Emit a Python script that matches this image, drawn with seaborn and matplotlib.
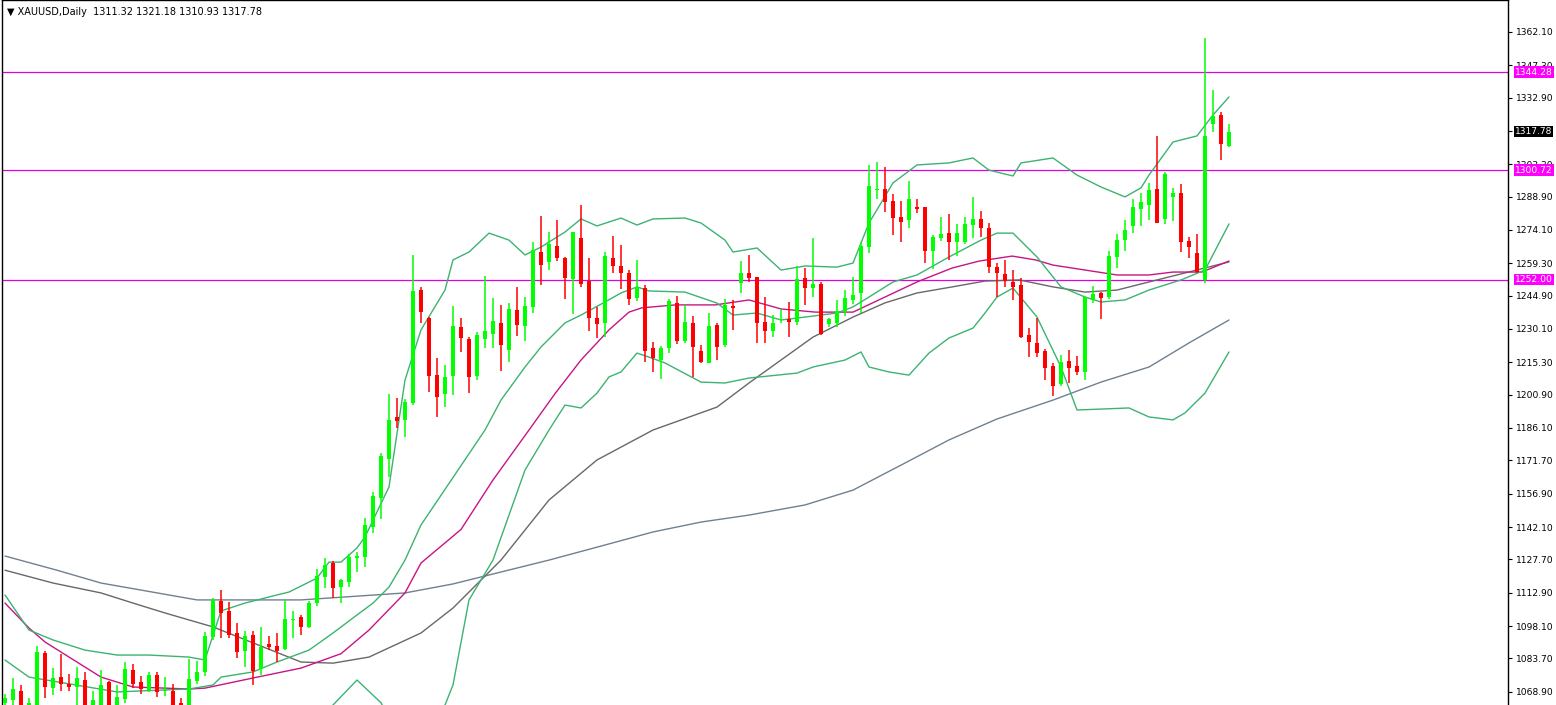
import numpy as np
import pandas as pd
import matplotlib
matplotlib.use("Agg")
import matplotlib.pyplot as plt
import seaborn as sns

# -----------------------------
# Candles (XAUUSD daily)
# -----------------------------
opens = [1064, 1065, 1069, 1063, 1063, 1086, 1070.5, 1075.5, 1072.5, 1071, 1074, 1063, 1063, 1073, 1063, 1065.6,
         1078.5, 1073, 1069.6, 1076.3, 1069, 1069.3, 1064, 1063, 1073.5, 1077.6, 1093, 1109.3, 1104.8, 1095,
         1087, 1094.1, 1079, 1090, 1089.2, 1087.9, 1100.8, 1102, 1097.7, 1108.4, 1119.7, 1126.1, 1115.4, 1117.7,
         1128.3, 1128.7, 1141.9, 1155, 1172.3, 1191, 1189.7, 1197.2, 1247.4, 1235, 1209.6, 1201.2, 1209.2, 1231,
         1225.7, 1209.2, 1225.7, 1228, 1232.7, 1220.8, 1238.5, 1231.4, 1239.9, 1264.3, 1259.9, 1267, 1261.6,
         1252.3, 1270.5, 1251.4, 1235, 1232.7, 1261.6, 1258.1, 1255, 1243.9, 1248.3, 1221.6, 1216.3, 1221.6,
         1241.7, 1224.8, 1232.7, 1220.3, 1215, 1231.9, 1223, 1240.3, 1250.5, 1255, 1253.2, 1233.2, 1229.2,
         1234.1, 1234.5, 1233.2, 1252.8, 1248.3, 1250.1, 1232.3, 1232.7, 1238.1, 1243, 1246.1, 1266.6, 1292,
         1292.3, 1287, 1280, 1278.5, 1284.3, 1284.3, 1264.8, 1270.5, 1272.7, 1268.8, 1268.8, 1276.3, 1279, 1275,
         1257.6, 1254.6, 1251, 1249.6, 1227.4, 1223.9, 1220.3, 1213.6, 1205.6, 1215.9, 1213.6, 1211, 1243,
         1246.1, 1244.3, 1262.1, 1269.6, 1275.9, 1283.4, 1285.2, 1292.3, 1279, 1288.8, 1290.6, 1269.2, 1263.9,
         1251.9, 1321.2, 1325.2, 1311.32]
highs = [1068, 1075, 1072, 1066, 1089, 1087, 1079.5, 1085.5, 1076.8, 1080, 1077.6, 1069, 1078.5, 1073.5, 1072, 1082,
         1081, 1075.8, 1077.6, 1077.6, 1075.4, 1072.3, 1066, 1083.5, 1082.5, 1095.5, 1110.6, 1114.1, 1108.8, 1099.4,
         1095.9, 1095.9, 1097.7, 1093.7, 1095, 1109.7, 1104.8, 1103, 1109.2, 1123.4, 1128.3, 1127, 1119, 1130.1,
         1131, 1146, 1157.7, 1175, 1201.2, 1199.4, 1199, 1263, 1248.8, 1235.4, 1217.2, 1214, 1240.3, 1235,
         1226.5, 1228.9, 1253.6, 1243.9, 1240.7, 1241.6, 1248.8, 1244.3, 1268.8, 1280.3, 1273.2, 1278.5, 1262,
         1273.2, 1285.2, 1261.6, 1239.9, 1264.3, 1271.4, 1267.4, 1256.3, 1260.8, 1249.6, 1224.3, 1222.5, 1243.4,
         1244.8, 1240.8, 1235.9, 1223, 1237.2, 1232.7, 1243.4, 1243, 1260.3, 1263, 1253.2, 1244.3, 1236.3, 1239,
         1242, 1258.1, 1257.2, 1270.5, 1251, 1235, 1243, 1247.4, 1253.2, 1268.8, 1303, 1304.3, 1302.1, 1290.1,
         1287, 1295.9, 1288, 1284.3, 1271.9, 1279.9, 1281.2, 1276.8, 1280, 1288.8, 1282.5, 1277, 1259.4, 1260.8,
         1256.3, 1252.8, 1230.5, 1235, 1221, 1215, 1218.5, 1220.8, 1218.1, 1244.8, 1249.2, 1246.5, 1264.8,
         1272.3, 1278.5, 1287.9, 1290.6, 1294.9, 1315.9, 1300, 1292.8, 1294.5, 1271, 1272.3, 1359.4, 1336.3,
         1326.5, 1321.18]
lows = [1063, 1063, 1062, 1062, 1062, 1066, 1067.5, 1069, 1069, 1063, 1062, 1062, 1062, 1062, 1062, 1064, 1070.5,
        1067.8, 1068.7, 1066.5, 1067, 1062, 1062, 1062, 1072.3, 1075.8, 1091.9, 1092.8, 1092.8, 1083.9, 1079.9,
        1071.9, 1076.3, 1087.4, 1082, 1087.4, 1092.8, 1094, 1097, 1107, 1115, 1110.6, 1108.4, 1115.5, 1122,
        1124.3, 1139.4, 1145.6, 1164.3, 1186.1, 1182, 1196.3, 1232.8, 1202.1, 1191, 1195.4, 1200.7, 1219.9,
        1201.6, 1207.4, 1221.6, 1221.6, 1211.4, 1215.4, 1227, 1224.8, 1237.2, 1249.6, 1256.3, 1260.3, 1243.4,
        1236.8, 1248.8, 1229.2, 1226.1, 1226.5, 1255, 1247.9, 1240.8, 1242.6, 1215.4, 1211, 1207.9, 1219.5,
        1223.4, 1223.9, 1208.7, 1215, 1215, 1216.3, 1222, 1229.6, 1246.1, 1251, 1223.9, 1223.9, 1226.5, 1232.7,
        1226.5, 1231.9, 1240.8, 1244.3, 1227.4, 1231, 1231, 1236, 1241, 1237.2, 1264, 1287.9, 1282.1, 1271.9,
        1268.8, 1275, 1281.6, 1259.4, 1256.7, 1269, 1260.8, 1262.5, 1268, 1270.5, 1271, 1255, 1244.3, 1248.8,
        1243, 1226.1, 1217.6, 1217.6, 1207.4, 1200.2, 1204.7, 1206, 1209.6, 1207.4, 1241.7, 1234.5, 1243.4,
        1257.2, 1264.8, 1272.7, 1275.9, 1278.5, 1277.2, 1276.8, 1278.1, 1264.3, 1261.6, 1255, 1250.5, 1317.7,
        1305.2, 1310.93]
closes = [1066, 1070, 1063, 1064, 1086.5, 1071, 1075, 1072.5, 1071, 1075, 1063, 1065, 1072, 1063, 1066.5, 1079,
          1072.5, 1070, 1076.3, 1068.7, 1069.6, 1063, 1063, 1074.5, 1077.6, 1093.7, 1109.7, 1103.9, 1094.1, 1086.5,
          1093.7, 1078.1, 1088.8, 1088.8, 1087, 1101.2, 1101.2, 1097.7, 1108.4, 1120.4, 1125.2, 1115, 1118.6,
          1128.7, 1129, 1143, 1155.9, 1173.6, 1189.7, 1189.2, 1197.6, 1247, 1237.6, 1209.2, 1199.9, 1208.7,
          1231.6, 1226.1, 1208.7, 1227.4, 1229.2, 1233.6, 1223, 1239, 1231.9, 1240.3, 1265.2, 1258.5, 1267.9,
          1261.6, 1252.8, 1273.2, 1250.1, 1235, 1232.3, 1262.5, 1258.1, 1255, 1243.4, 1248.8, 1220.3, 1217.2,
          1221.6, 1242.6, 1224.8, 1233.2, 1222.1, 1215.4, 1231.4, 1222.1, 1240.8, 1239.5, 1255, 1252.8, 1232.7,
          1229.2, 1232.7, 1234.5, 1233.2, 1252.3, 1248.3, 1250.1, 1227.9, 1234.5, 1238.1, 1243.9, 1245.3, 1267,
          1293.6, 1292, 1286.5, 1279.4, 1277.7, 1287.9, 1283.4, 1264.8, 1271, 1272.3, 1268.8, 1272.7, 1276.8,
          1279, 1275, 1257.6, 1255, 1251.4, 1248.8, 1226.5, 1224.3, 1219.5, 1212.7, 1204.7, 1215.4, 1212.7, 1211,
          1244.3, 1245.7, 1243.9, 1262.5, 1269.6, 1274.1, 1284.3, 1286.5, 1291.9, 1277.2, 1299, 1290.6, 1268.8,
          1266.6, 1255.4, 1315.9, 1324.8, 1312.3, 1317.78]

# -----------------------------
# Indicator lines (bar index, price)
# -----------------------------
bb_upper_idx = [0, 3, 6, 10, 14, 18, 23, 25, 26, 27, 30, 34, 35.5, 39, 40.5, 42, 44, 45, 48, 50, 52, 55, 56, 58, 60,
                60.5, 63, 65, 67, 70, 72, 74, 77, 79, 81, 85, 87, 90, 91, 94, 97, 100, 104, 106, 108, 111, 114, 118,
                121, 123, 126, 127, 131, 134, 137, 140, 142, 143, 146, 149, 151, 153]
bb_upper_val = [1111.9, 1096.3, 1091.9, 1087.4, 1085.2, 1085.2, 1084.3, 1083.0, 1094.0, 1104.8, 1108.3, 1111.9,
                1113.2, 1119.4, 1126.5, 1126.5, 1132.8, 1137.7, 1159.9, 1207.4, 1229.7, 1247.4, 1260.8, 1264.3,
                1271.0, 1272.7, 1269.6, 1263.0, 1266.5, 1273.2, 1279.0, 1275.9, 1279.4, 1276.3, 1279.0, 1279.4,
                1277.2, 1269.6, 1264.3, 1266.1, 1256.3, 1258.1, 1257.6, 1259.4, 1277.2, 1295.0, 1303.0, 1303.9,
                1306.1, 1300.7, 1298.1, 1303.9, 1306.1, 1298.5, 1293.2, 1288.8, 1292.8, 1298.5, 1313.2, 1315.9,
                1325.2, 1333.2]
bb_mid_idx = [0, 3, 14, 20, 23, 26, 27, 31, 34, 38, 41, 44, 46, 48, 50, 52, 60, 62, 65, 67, 70, 72, 75, 77, 79,
              80.5, 85, 89, 91, 94, 97, 100, 104, 106, 108, 111, 114, 118, 122, 124, 126, 129, 132, 135, 137, 140,
              143, 147, 150, 153]
bb_mid_val = [1083.0, 1075.4, 1068.8, 1069.7, 1070.1, 1071.9, 1075.4, 1077.7, 1082.1, 1087.4, 1095.0, 1103.0,
              1108.3, 1115.4, 1127.4, 1143.0, 1185.2, 1198.5, 1213.2, 1222.1, 1232.8, 1236.3, 1242.1, 1246.1,
              1248.8, 1247.0, 1246.5, 1241.6, 1236.3, 1237.2, 1234.1, 1235.4, 1237.2, 1239.9, 1244.3, 1251.0,
              1254.1, 1262.1, 1269.6, 1272.7, 1272.7, 1262.1, 1248.8, 1244.3, 1242.1, 1243.0, 1247.4, 1251.9,
              1256.3, 1276.8]
bb_low_idx = [0, 3, 10, 14, 20, 25, 30, 36, 41, 44, 47, 49, 51, 55, 56, 58, 61, 65, 68, 70, 72, 74, 75.5, 77, 79,
              80.5, 82.5, 87, 90, 93, 99, 101, 105, 107, 108, 110.5, 113, 115.5, 118, 121, 122.5, 124, 126, 129,
              132, 134, 140.5, 143, 146, 147.5, 150, 153]
bb_low_val = [1054.0, 1054.5, 1050.0, 1052.0, 1054.0, 1057.0, 1045.0, 1045.0, 1063.0, 1074.1, 1064.0, 1050.0,
              1030.0, 1063.0, 1071.9, 1109.7, 1127.4, 1167.4, 1185.2, 1196.3, 1195.0, 1201.6, 1208.8, 1211.0,
              1219.4, 1217.6, 1215.0, 1206.5, 1206.1, 1208.3, 1210.5, 1213.2, 1216.3, 1219.9, 1213.2, 1211.0,
              1209.6, 1219.4, 1226.1, 1230.5, 1237.2, 1244.3, 1248.3, 1235.4, 1213.2, 1194.1, 1195.0, 1191.0,
              1189.7, 1192.8, 1201.6, 1219.9]
ma_fast_idx = [0, 3, 5, 8, 12, 16, 20, 23, 25, 31, 37, 42, 45.5, 50, 52, 57, 61, 65.5, 68.8, 72, 75.5, 78, 79.6,
               83.8, 88.8, 93, 97, 101.3, 106, 110, 114, 118.4, 121.8, 125.9, 128.8, 131, 135, 139, 143, 146,
               149.6, 153]
ma_fast_val = [1108.3, 1097.2, 1091.0, 1084.3, 1075.4, 1071.0, 1070.5, 1070.1, 1070.5, 1075.0, 1079.4, 1085.8,
               1096.3, 1112.8, 1126.1, 1141.0, 1163.0, 1185.2, 1201.6, 1216.3, 1229.7, 1237.6, 1239.5, 1240.8,
               1240.8, 1243.0, 1239.0, 1237.6, 1237.6, 1244.3, 1251.0, 1257.2, 1260.3, 1262.5, 1260.8, 1258.5,
               1256.3, 1254.1, 1254.1, 1255.4, 1255.4, 1260.3]
ma_mid_idx = [0, 6, 12, 16, 20, 26, 37, 41, 45.5, 52, 56, 62, 68, 74, 81, 89, 93, 97, 101, 106, 110, 114, 118.4,
              122.5, 126.8, 131, 135, 139, 143, 147.5, 153]
ma_mid_val = [1122.9, 1117.2, 1112.8, 1108.3, 1103.9, 1097.7, 1082.1, 1081.6, 1084.3, 1095.0, 1106.1, 1127.4,
              1154.1, 1171.9, 1185.2, 1195.4, 1206.1, 1216.3, 1226.5, 1235.4, 1241.7, 1246.1, 1248.8, 1251.4,
              1251.9, 1248.8, 1246.5, 1247.4, 1251.0, 1255.0, 1259.9]
ma_slow_idx = [0, 6.5, 12, 24, 37, 50, 56, 62, 68, 75, 81, 87, 93, 100, 106, 112, 118, 124, 131, 137, 143, 148, 153]
ma_slow_val = [1129.2, 1122.9, 1117.2, 1109.7, 1109.7, 1112.8, 1116.8, 1122.1, 1127.4, 1134.1, 1139.9, 1144.3,
               1147.4, 1151.9, 1158.5, 1169.6, 1180.8, 1190.1, 1198.5, 1206.5, 1213.2, 1223.9, 1234.1]

levels = [1344.28, 1300.72, 1252.00]
tick_labels = ["1362.10", "1347.30", "1332.90", "1318.10", "1303.30", "1288.90", "1274.10", "1259.30", "1244.90",
               "1230.10", "1215.30", "1200.90", "1186.10", "1171.70", "1156.90", "1142.10", "1127.70", "1112.90",
               "1098.10", "1083.70", "1068.90"]
last_price = 1317.78

# -----------------------------
# Figure
# -----------------------------
sns.set_style("white")
plt.rcParams["font.family"] = ["DejaVu Sans"]
W, H = 1556, 705
fig = plt.figure(figsize=(W / 100, H / 100), dpi=100)
ax = fig.add_axes([2 / W, 0, 1506 / W, 1])
ax.set_facecolor("white")

df = pd.DataFrame({"o": opens, "h": highs, "l": lows, "c": closes})
df["i"] = np.arange(len(df))
up = df["c"] >= df["o"]
GREEN, RED = "#00ff00", "#ff0000"
colors = np.where(up, GREEN, RED)

# indicator lines behind the candles
line_specs = [
    (ma_slow_idx, ma_slow_val, "#708090"),
    (ma_mid_idx, ma_mid_val, "#686868"),
    (ma_fast_idx, ma_fast_val, "#c71585"),
    (bb_upper_idx, bb_upper_val, "#3cb371"),
    (bb_mid_idx, bb_mid_val, "#3cb371"),
    (bb_low_idx, bb_low_val, "#3cb371"),
]
for xs, ys, col in line_specs:
    sns.lineplot(x=xs, y=ys, ax=ax, color=col, linewidth=1.0, sort=False, zorder=2)

for lv in levels:
    ax.axhline(lv, color="#e000e0", lw=0.9, zorder=1)

ax.vlines(df["i"], df["l"], df["h"], colors=colors, lw=1.1, zorder=3)
body_h = (df["c"] - df["o"]).abs().clip(lower=0.5)
ax.bar(df["i"], body_h, bottom=np.minimum(df["o"], df["c"]), width=0.62, color=colors, linewidth=0, zorder=4)

ax.set_xlim(-0.375, (1506 - 3) / 8)
ax.set_ylim(1063.0, 1376.3)
ax.set_xticks([])
tick_vals = [float(t) for t in tick_labels]
ax.yaxis.tick_right()
ax.set_yticks(tick_vals)
ax.set_yticklabels(tick_labels)
ax.tick_params(axis="y", direction="out", length=3, width=0.8, pad=3, labelsize=6.6, colors="black")
for s in ["left", "right", "top"]:
    ax.spines[s].set_color("black")
    ax.spines[s].set_linewidth(1)
ax.spines["bottom"].set_visible(False)

# price labels on the axis
box_x = 1.0045
for lv in levels:
    ax.text(box_x, lv, f"{lv:.2f}", transform=ax.get_yaxis_transform(), fontsize=6.6, color="white",
            va="center", ha="left", zorder=10, clip_on=False,
            bbox=dict(boxstyle="square,pad=0.12", fc="#ff00ff", ec="none"))
ax.text(box_x, last_price, f"{last_price:.2f}", transform=ax.get_yaxis_transform(), fontsize=6.6, color="white",
        va="center", ha="left", zorder=10, clip_on=False,
        bbox=dict(boxstyle="square,pad=0.12", fc="black", ec="none"))

ax.text(5 / 1506, 1 - 12 / H, "\u25bc XAUUSD,Daily  1311.32 1321.18 1310.93 1317.78", transform=ax.transAxes,
        fontsize=7, color="black", va="center", ha="left")

ax.set_xlabel("")
ax.set_ylabel("")
fig.savefig("out.png", dpi=100, facecolor="white")
